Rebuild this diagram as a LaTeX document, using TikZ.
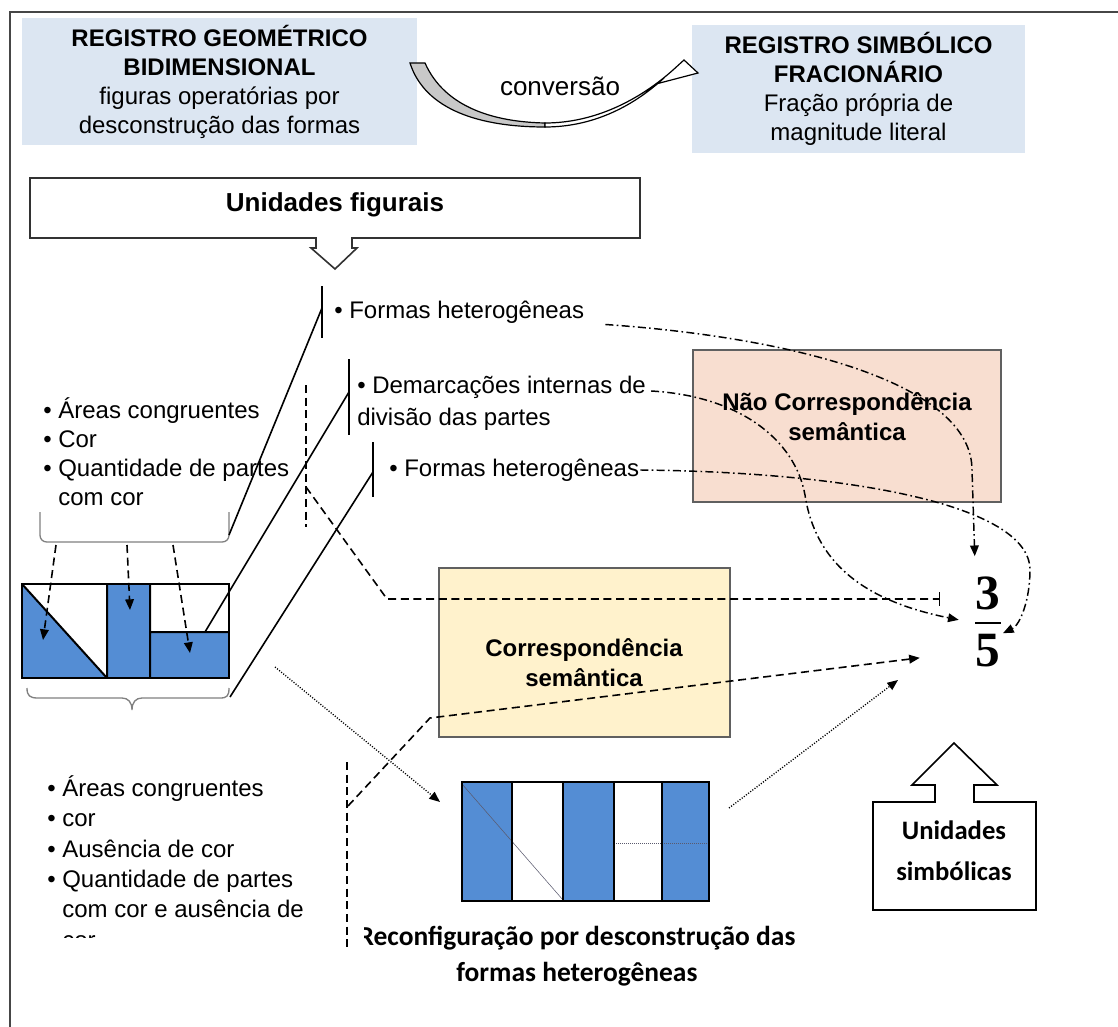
\documentclass[tikz,border=0pt]{standalone}
\usepackage{fontspec}
\setmainfont{Liberation Sans}
\newfontfamily\calibrifont{Carlito}
\newfontfamily\fracfont{Liberation Serif}
\usetikzlibrary{arrows.meta}

\begin{document}
\begin{tikzpicture}[x=0.75pt,y=0.75pt,yscale=-1,xscale=1,
  regbox/.style={fill={rgb, 255:red, 220; green, 230; blue, 242 }, inner sep=0pt, align=center, font=\fontsize{18}{21.75}\selectfont},
  semibox/.style={draw={rgb, 255:red, 96; green, 96; blue, 96 }, line width=0.9pt, inner sep=0pt},
  txt/.style={inner sep=0.75pt, align=left, font=\fontsize{18}{21.75}\selectfont},
  boldtxt/.style={inner sep=0.75pt, align=center, font=\bfseries\fontsize{18}{22.5}\selectfont},
  caltxt/.style={inner sep=0.75pt, align=center, font=\calibrifont\bfseries\fontsize{20}{27}\selectfont},
  bluepart/.style={fill={rgb, 255:red, 84; green, 141; blue, 212 }},
  tri/.style={-{Triangle[length=8pt,width=6.5pt]}},
  dashdot/.style={tri, line width=1.1pt, dash pattern=on 6pt off 2.5pt on 1.2pt off 2.5pt},
  dsh/.style={line width=1.2pt, dash pattern=on 6pt off 3.5pt},
  dotline/.style={tri, line width=1pt, dash pattern=on 0.8pt off 1.2pt},
  vbar/.style={line width=1.5pt}
]
\useasboundingbox (0,0) rectangle (1118,1027);
\draw [line width=1.5pt, color={rgb, 255:red, 70; green, 70; blue, 70 }] (10,1040) -- (10,12) -- (1130,12);

\node [regbox, minimum width=296.25pt, minimum height=95.25pt] (geo) at (219.5,81.5) {\textbf{REGISTRO GEOMÉTRICO}\\\textbf{BIDIMENSIONAL}\\figuras operatórias por\\desconstrução das formas};
\node [regbox, minimum width=249.75pt, minimum height=96pt] (simb) at (858.5,89) {\textbf{REGISTRO SIMBÓLICO}\\\textbf{FRACIONÁRIO}\\Fração própria de\\magnitude literal};

\filldraw [fill={rgb, 255:red, 200; green, 200; blue, 200 }, line width=0.9pt] (410,63) -- (425,63) .. controls (445,108) and (495,122) .. (545,123) -- (545,127) .. controls (480,127) and (425,110) .. (410,63) -- cycle;
\filldraw [fill=white, line width=0.9pt] (545,127) .. controls (600,127) and (640,100) .. (664,78) -- (656,84) -- (698,73) -- (684,60) -- (673,70) .. controls (645,95) and (600,123) .. (545,123) -- cycle;
\node [txt, font=\fontsize{19.5}{22}\selectfont] (conv) at (560,86) {conversão};

\draw [line width=1.2pt, color={rgb, 255:red, 50; green, 50; blue, 50 }] (30,178) -- (640,178) -- (640,238) -- (352,238) -- (352,248) -- (357,248) -- (335,269) -- (311,248) -- (316,248) -- (316,238) -- (30,238) -- cycle;
\node [boldtxt, font=\bfseries\fontsize{19.5}{22.5}\selectfont] (fig) at (335,205) {Unidades figurais};

\draw [vbar] (322,286) -- (322,338);
\draw [vbar] (349,359) -- (349,435);
\draw [vbar] (373,442) -- (373,497);
\node [txt, anchor=west] (fh1) at (333,312) {\textbullet\ Formas heterogêneas};
\node [txt, anchor=west, font=\fontsize{18}{24}\selectfont] (dem) at (356,403) {\textbullet\ Demarcações internas de\\divisão das partes};
\node [txt, anchor=west] (fh2) at (388,470) {\textbullet\ Formas heterogêneas};
\node [txt, anchor=west] (ltop) at (42,452) {\textbullet\ Áreas congruentes\\\textbullet\ Cor\\\textbullet\ Quantidade de partes\\\hphantom{\textbullet\ }com cor};

\draw [color={rgb, 255:red, 128; green, 128; blue, 128 }, line width=1pt, rounded corners=5pt] (40,512) -- (40,542) -- (229,542) -- (229,512);
\draw [color={rgb, 255:red, 128; green, 128; blue, 128 }, line width=1pt] (27,688) .. controls (27,696) and (30,698) .. (38,698) -- (122,698) .. controls (128,698) and (132,702) .. (132,710) .. controls (132,702) and (136,698) .. (142,698) -- (220,698) .. controls (227,698) and (229,696) .. (229,688);

\fill [bluepart] (22,584) -- (22,678) -- (107,678) -- cycle;
\fill [bluepart] (107,584) rectangle (150,678);
\fill [bluepart] (150,632) rectangle (229,678);
\draw [line width=1.5pt] (22,584) rectangle (229,678);
\draw [line width=1.5pt] (107,584) -- (107,678) (150,584) -- (150,678) (150,632) -- (229,632) (22,584) -- (107,678);

\draw [line width=1.2pt] (229,535) -- (322,308);
\draw [line width=1.2pt] (205,632) -- (349,392);
\draw [line width=1.2pt] (230,697) -- (373,472);

\draw [dsh, tri] (56,545) -- (43,640);
\draw [dsh, tri] (127,545) -- (130,610);
\draw [dsh, tri] (173,545) -- (190,653);

\node [semibox, fill={rgb, 255:red, 248; green, 222; blue, 208 }, minimum width=231pt, minimum height=114pt] (nao) at (847,426) {};
\node [boldtxt] (naotxt) at (847,417) {Não Correspondência\\semântica};
\node [semibox, fill={rgb, 255:red, 255; green, 242; blue, 204 }, minimum width=218.25pt, minimum height=126.75pt] (corr) at (584.5,652.5) {};
\node [boldtxt] (corrtxt) at (584,663) {Correspondência\\semântica};

\node [inner sep=0pt, font=\fracfont\bfseries\fontsize{37}{37}\selectfont] (num) at (988,593) {3};
\node [inner sep=0pt, font=\fracfont\bfseries\fontsize{37}{37}\selectfont] (den) at (988,651) {5};
\node [fill, inner sep=0pt, minimum width=20pt, minimum height=2.2pt] (fbar) at (988,623) {};

\draw [dsh] (306,385) -- (306,527);
\draw [dsh, -{Bar[width=10pt,line width=0.6pt]}] (306,487) -- (387,599) -- (940,599);

\draw [dashdot, shorten >=15pt] ([xshift=15pt]fh1.south east) .. controls (800,338) and (972,385) .. (972,470) -- (num.north west);
\draw [dashdot, shorten >=12pt] ([yshift=-9pt,xshift=3pt]dem.east) .. controls (740,396) and (795,440) .. (805,495) .. controls (815,560) and (860,600) .. (fbar.west);
\draw [dashdot, shorten >=2pt] (fh2.east) .. controls (850,472) and (1030,505) .. (1030,570) .. controls (1030,600) and (1020,625) .. (den.north east);

\draw [dsh] (347,762) -- (347,947);
\draw [dsh, tri, shorten >=42pt] (348,806) -- (430,718) -- (den.west);

\draw [dotline] (275,667) -- (440,802);
\draw [dotline] (729,808) -- (898,680);

\fill [bluepart] (462,782) rectangle (512,901) (563,782) rectangle (614,901) (662,782) rectangle (709,901);
\draw [line width=0.4pt, color={rgb, 255:red, 90; green, 90; blue, 110 }] (462,784) -- (563,900);
\draw [line width=0.5pt, densely dotted, color={rgb, 255:red, 90; green, 90; blue, 110 }] (614,843) -- (709,843);
\draw [line width=1.5pt] (462,782) rectangle (709,901);
\draw [line width=1.5pt] (512,782) -- (512,901) (563,782) -- (563,901) (614,782) -- (614,901) (662,782) -- (662,901);

\begin{scope}
\clip (0,0) rectangle (345,937);
\node [txt, anchor=west, font=\fontsize{18}{22.8}\selectfont] (lbot) at (46,862) {\textbullet\ Áreas congruentes\\\textbullet\ cor\\\textbullet\ Ausência de cor\\\textbullet\ Quantidade de partes\\\hphantom{\textbullet\ }com cor e ausência de\\\hphantom{\textbullet\ }cor};
\end{scope}

\begin{scope}
\clip (364,900) rectangle (900,1027);
\node [caltxt, font=\calibrifont\bfseries\fontsize{20.6}{27}\selectfont] (reconf) at (577,956) {Reconfiguração por desconstrução das\\formas heterogêneas};
\end{scope}

\draw [line width=1.2pt] (873,802) -- (935,802) -- (935,785) -- (912,785) -- (954,743) -- (997,785) -- (974,785) -- (974,802) -- (1036,802) -- (1036,910) -- (873,910) -- cycle;
\node [caltxt, font=\calibrifont\bfseries\fontsize{20}{30.75}\selectfont] (simbun) at (954,851) {Unidades\\simbólicas};
\end{tikzpicture}
\end{document}
